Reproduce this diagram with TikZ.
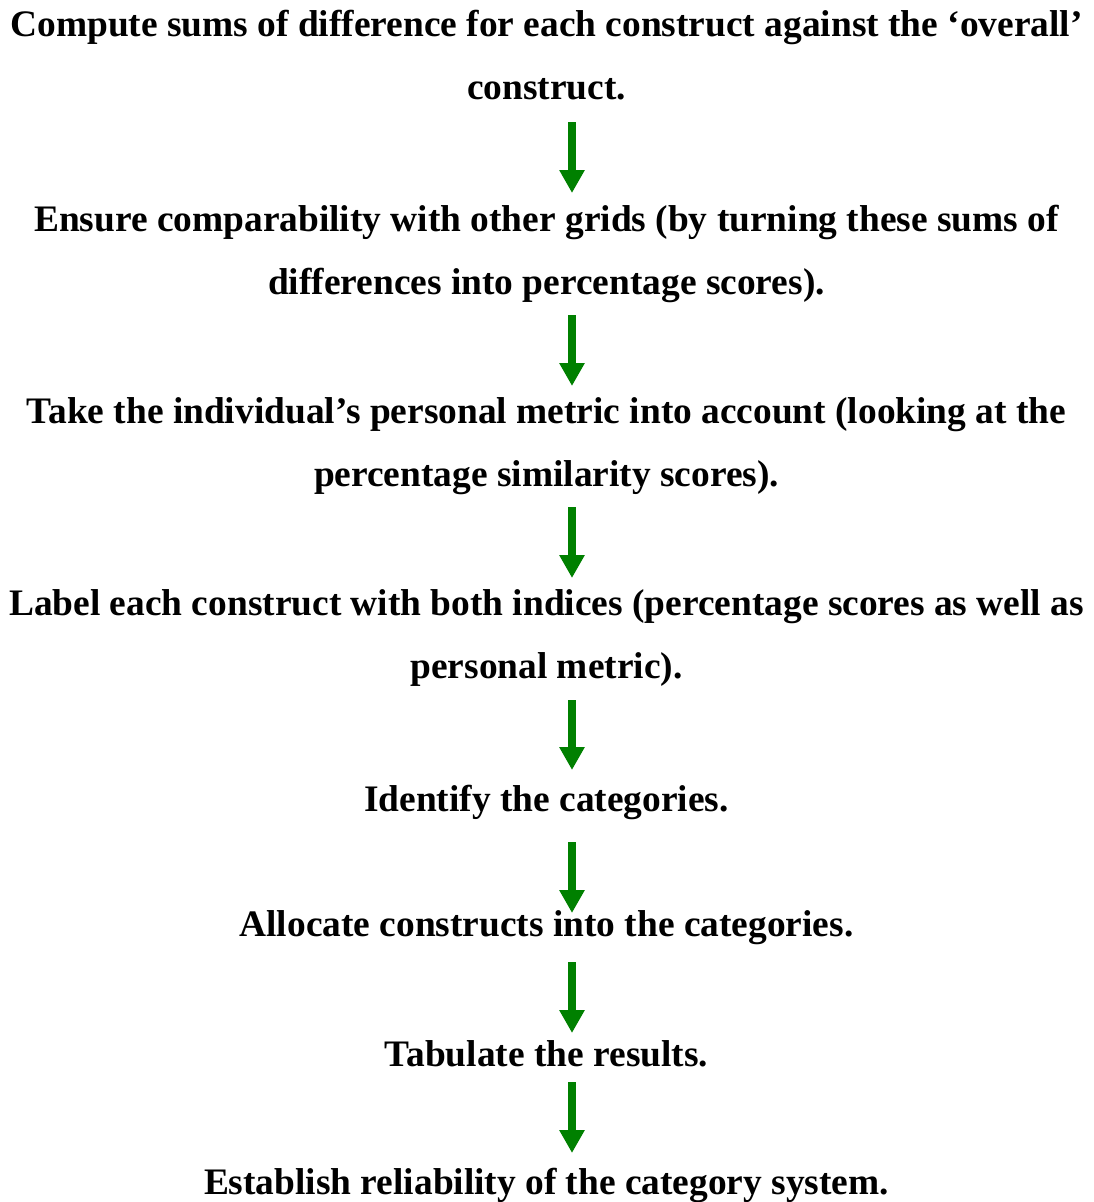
\documentclass[tikz,border=0pt]{standalone}
\usepackage{fontspec}
\setmainfont{Liberation Serif}
\usetikzlibrary{arrows.meta}
\definecolor{flowgreen}{RGB}{0,128,0}
\begin{document}
\begin{tikzpicture}[x=1pt,y=-1pt,
  line/.style={anchor=base,inner sep=0pt,font=\fontsize{37.4}{40}\selectfont\bfseries},
  flow/.style={draw=flowgreen,line width=8pt,-{Triangle[length=23pt,width=24pt]}}]
\useasboundingbox (0,0) rectangle (1093,1202);
\coordinate (axis) at (572,0);
% step texts, one node per printed line
\node[line] (s1a) at (546.5,36)  {Compute sums of difference for each construct against the ‘overall’};
\node[line] (s1b) at (546.5,99)  {construct.};
\node[line] (s2a) at (546.5,231) {Ensure comparability with other grids (by turning these sums of};
\node[line] (s2b) at (546.5,294) {differences into percentage scores).};
\node[line] (s3a) at (546.5,423) {Take the individual’s personal metric into account (looking at the};
\node[line] (s3b) at (546.5,486) {percentage similarity scores).};
\node[line] (s4a) at (546.5,615) {Label each construct with both indices (percentage scores as well as};
\node[line] (s4b) at (546.5,678) {personal metric).};
\node[line] (s5)  at (546.5,811) {Identify the categories.};
\node[line] (s6)  at (546.5,936) {Allocate constructs into the categories.};
\node[line] (s7)  at (546.5,1066) {Tabulate the results.};
\node[line] (s8)  at (546.5,1194) {Establish reliability of the category system.};
% connectors
\draw[flow,shorten <=23pt,shorten >=38pt] (s1b.base -| axis) -- (s2a.base -| axis);
\draw[flow,shorten <=21pt,shorten >=37pt] (s2b.base -| axis) -- (s3a.base -| axis);
\draw[flow,shorten <=21pt,shorten >=37pt] (s3b.base -| axis) -- (s4a.base -| axis);
\draw[flow,shorten <=22pt,shorten >=41pt] (s4b.base -| axis) -- (s5.base -| axis);
\draw[flow,shorten <=31pt,shorten >=23pt] (s5.base -| axis) -- (s6.base -| axis);
\draw[flow,shorten <=26pt,shorten >=33pt] (s6.base -| axis) -- (s7.base -| axis);
\draw[flow,shorten <=16pt,shorten >=41pt] (s7.base -| axis) -- (s8.base -| axis);
\end{tikzpicture}
\end{document}
